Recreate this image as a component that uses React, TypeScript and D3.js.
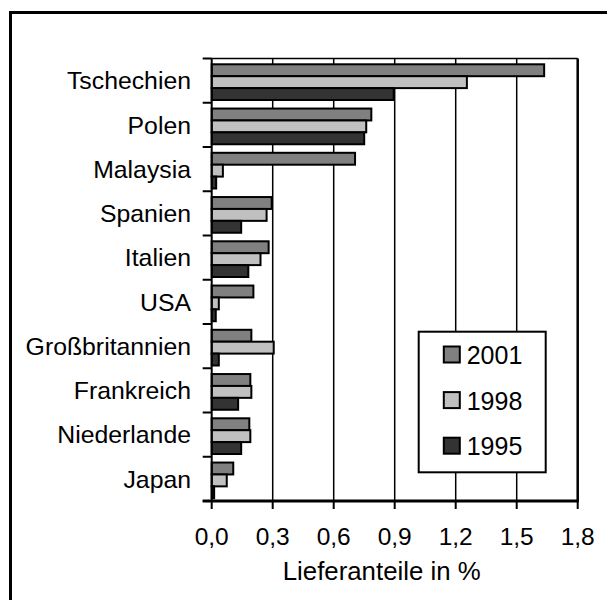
import React from "react";
import * as d3 from "d3";

const categories = ["Tschechien", "Polen", "Malaysia", "Spanien", "Italien", "USA", "Großbritannien", "Frankreich", "Niederlande", "Japan"];
const seriesNames = ["2001", "1998", "1995"];
const values2001 = [1.635, 0.785, 0.705, 0.295, 0.28, 0.205, 0.195, 0.19, 0.185, 0.106];
const values1998 = [1.255, 0.76, 0.055, 0.27, 0.24, 0.035, 0.305, 0.195, 0.19, 0.074];
const values1995 = [0.895, 0.75, 0.022, 0.145, 0.18, 0.02, 0.035, 0.13, 0.145, 0.012];
const xTicks = [0, 0.3, 0.6, 0.9, 1.2, 1.5, 1.8];
const axisTitle = "Lieferanteile in %";

const seriesValues = [values2001, values1998, values1995];
const colors = ["#808080", "#c0c0c0", "#333333"];
const FONT = "'Liberation Sans', Arial, sans-serif";

export default function App() {
  const x0 = 211.7, x1 = 577.7, y0 = 58.5, y1 = 501;
  const x = d3.scaleLinear().domain([0, 1.8]).range([x0, x1]);
  const y = d3.scaleBand<string>().domain(categories).range([y0, y1]).padding(0);
  const bw = y.bandwidth();
  const sub = d3.scaleBand<string>().domain(seriesNames).range([bw * 0.131, bw * 0.938]).padding(0);
  const fmt = (v: number) => v.toFixed(1).replace(".", ",");

  const bandEdges = categories.map((c) => y(c) as number).concat([y1]);

  return (
    <svg width={607} height={600} style={{ position: "absolute", left: 0, top: 0, background: "#fff" }} fontFamily={FONT}>
      <rect x={10.5} y={12.5} width={640} height={640} fill="none" stroke="#000" strokeWidth={3} />
      {/* gridlines */}
      {xTicks.slice(1).map((t) => (
        <line key={"g" + t} x1={x(t)} x2={x(t)} y1={y0} y2={y1} stroke="#000" strokeWidth={t === 1.8 ? 2.5 : 1.5} />
      ))}
      <line x1={x0} x2={x1} y1={y0} y2={y0} stroke="#000" strokeWidth={1.5} />
      {/* bars */}
      {categories.map((c, i) => (
        <g key={c}>
          {seriesNames.map((s, j) => (
            <rect
              key={s}
              x={x(0)}
              y={(y(c) as number) + (sub(s) as number)}
              width={x(seriesValues[j][i]) - x(0)}
              height={sub.bandwidth()}
              fill={colors[j]}
              stroke="#000"
              strokeWidth={2}
            />
          ))}
        </g>
      ))}
      {/* axes */}
      <line x1={x0} x2={x0} y1={y0} y2={y1} stroke="#000" strokeWidth={2} />
      <line x1={x0 - 9} x2={x1 + 1} y1={y1} y2={y1} stroke="#000" strokeWidth={3} />
      {bandEdges.map((e, i) => (
        <line key={"ct" + i} x1={x0 - 9} x2={x0} y1={e} y2={e} stroke="#000" strokeWidth={2} />
      ))}
      {xTicks.map((t) => (
        <line key={"xt" + t} x1={x(t)} x2={x(t)} y1={y1} y2={y1 + 8} stroke="#000" strokeWidth={2} />
      ))}
      {xTicks.map((t) => (
        <text key={"xl" + t} x={x(t)} y={545} textAnchor="middle" fontSize={24.5} fill="#000">
          {fmt(t)}
        </text>
      ))}
      {categories.map((c) => (
        <text key={"cl" + c} x={191} y={(y(c) as number) + bw / 2 + 8.8} textAnchor="end" fontSize={24.8} fill="#000">
          {c}
        </text>
      ))}
      <text x={381.7} y={580} textAnchor="middle" fontSize={25.8} fill="#000">
        {axisTitle}
      </text>
      {/* legend */}
      <rect x={418.7} y={331.7} width={127} height={140.6} fill="#fff" stroke="#000" strokeWidth={2} />
      {seriesNames.map((s, j) => (
        <g key={"lg" + s}>
          <rect x={443.8} y={346.5 + j * 45.6} width={16} height={16} fill={colors[j]} stroke="#000" strokeWidth={2} />
          <text x={466.7} y={364 + j * 45.6} fontSize={25} fill="#000">
            {s}
          </text>
        </g>
      ))}
    </svg>
  );
}
